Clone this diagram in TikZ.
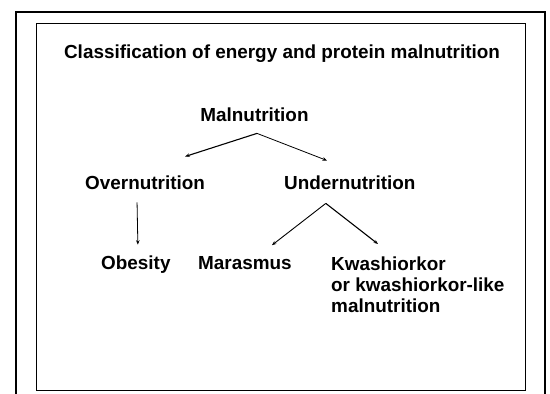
\documentclass[tikz,border=0pt]{standalone}
\usepackage{fontspec}
\setmainfont{Liberation Sans}
\usetikzlibrary{arrows.meta}
\begin{document}
\begin{tikzpicture}[x=1pt,y=-1pt,line cap=butt,line join=miter,>={Stealth[length=4.5pt,width=3.5pt]},
		lbl/.style={inner sep=0pt,font=\fontsize{18.9}{20.8}\selectfont\bfseries}]
			\useasboundingbox (0,0) rectangle (550,394);
			% frames
			\draw[line width=2pt] (16,394)--(16,11.7)--(545,11.7)--(545,394);
			\draw[line width=1.3pt] (36.7,23.3) rectangle (525.5,390.5);
			
			\node[lbl,anchor=base] (title) at (282,58) {Classification of energy and protein malnutrition};
			\node[lbl,anchor=base] (mal) at (254.5,121) {Malnutrition};
			\node[lbl,anchor=base west] (over) at (85,189) {Overnutrition};
			\node[lbl,anchor=base west] (under) at (284,189) {Undernutrition};
			\node[lbl,anchor=base west] (obes) at (101,269) {Obesity};
			\node[lbl,anchor=base west] (maras) at (198,269) {Marasmus};
			% base of the last line
			\node[lbl,anchor=base west,align=left] (kwash) at (331,312.5) {Kwashiorkor\\or kwashiorkor-like\\malnutrition};
			
			\coordinate (malfork) at ([xshift=2.5pt,yshift=-12pt]mal.south);
			\coordinate (underfork) at ([xshift=-24pt,yshift=-14pt]under.south);
			\draw[->,line width=1.1pt] (malfork)--([xshift=-20pt,yshift=18.6pt]over.north east);
			\draw[->,line width=0.8pt] (malfork)--([xshift=43pt,yshift=14.6pt]under.north west);
			\draw[->,line width=0.8pt] ([xshift=-8pt,yshift=-13pt]over.south)--([xshift=2pt,yshift=10.4pt]obes.north);
			\draw[->,line width=0.9pt] (underfork)--([xshift=-20pt,yshift=10.6pt]maras.north east);
			\draw[->,line width=1.1pt] (underfork)--([xshift=47pt,yshift=13pt]kwash.north west);
		\end{tikzpicture}
\end{document}
